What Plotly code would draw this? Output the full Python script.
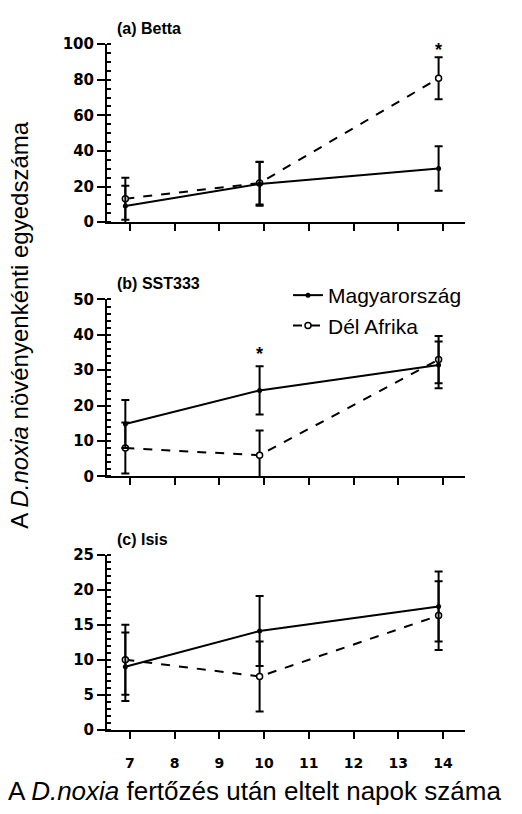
import plotly.graph_objects as go

# Sampling days (as plotted) and x tick labels
days = [6.9, 9.9, 13.9]
x_ticks = [7, 8, 9, 10, 11, 12, 13, 14]

series_names = ["Magyarország", "Dél Afrika"]

# (a) Betta
betta_hu = [9.1, 21.5, 30.2]
betta_hu_err = [11.4, 12.3, 12.5]
betta_za = [13.2, 22.0, 80.8]
betta_za_err = [11.8, 12.0, 11.8]

# (b) SST333
sst_hu = [14.8, 24.3, 31.5]
sst_hu_err = [6.8, 6.8, 6.6]
sst_za = [8.0, 6.0, 33.0]
sst_za_err = [7.2, 7.0, 6.7]

# (c) Isis
isis_hu = [9.0, 14.1, 17.6]
isis_hu_err = [4.9, 5.0, 5.0]
isis_za = [10.0, 7.6, 16.3]
isis_za_err = [5.0, 5.0, 4.9]

panel_titles = ["(a) Betta", "(b) SST333", "(c) Isis"]
y_ranges = [[0, 100], [0, 50], [0, 25]]
y_major = [20, 10, 5]
y_minor = [5, 2, 1]

# significance stars: (panel index, day, y)
stars = [(0, 13.9, 96.5), (1, 9.9, 34.5)]

W, H = 522, 814
x_dom = [107 / W, 465 / W]
# panel pixel extents (top, bottom)
panel_px = [(36, 218), (297, 478), (558, 737)]
y_doms = [[(H - b) / H, (H - t) / H] for t, b in panel_px]

panels = [
    (betta_hu, betta_hu_err, betta_za, betta_za_err),
    (sst_hu, sst_hu_err, sst_za, sst_za_err),
    (isis_hu, isis_hu_err, isis_za, isis_za_err),
]

fig = go.Figure()
for i, (hu, hu_e, za, za_e) in enumerate(panels):
    xa = "x" if i == 0 else f"x{i+1}"
    ya = "y" if i == 0 else f"y{i+1}"
    fig.add_trace(go.Scatter(
        x=days, y=za, xaxis=xa, yaxis=ya, mode="lines+markers",
        name=series_names[1], legendgroup="za", showlegend=(i == 0), legendrank=2,
        line=dict(color="black", width=2, dash="dash"),
        marker=dict(symbol="circle", size=6, color="white",
                    line=dict(color="black", width=1.5)),
        error_y=dict(type="data", array=za_e, visible=True, color="black",
                     thickness=2, width=4),
    ))
    fig.add_trace(go.Scatter(
        x=days, y=hu, xaxis=xa, yaxis=ya, mode="lines+markers",
        name=series_names[0], legendgroup="hu", showlegend=(i == 0), legendrank=1,
        line=dict(color="black", width=2),
        marker=dict(symbol="circle", size=5, color="black"),
        error_y=dict(type="data", array=hu_e, visible=True, color="black",
                     thickness=2, width=4),
    ))

tick_font = dict(family="DejaVu Sans", size=15, color="black", weight="bold")
layout = dict(
    width=W, height=H,
    margin=dict(l=0, r=0, t=0, b=0),
    paper_bgcolor="white", plot_bgcolor="white",
    showlegend=True,
    legend=dict(x=288 / W, y=(H - 272) / H, xanchor="left", yanchor="top",
                font=dict(family="Liberation Sans", size=21, color="black"),
                bgcolor="rgba(0,0,0,0)", tracegroupgap=0),
)
for i in range(3):
    xk = "xaxis" if i == 0 else f"xaxis{i+1}"
    yk = "yaxis" if i == 0 else f"yaxis{i+1}"
    ya = "y" if i == 0 else f"y{i+1}"
    xa = "x" if i == 0 else f"x{i+1}"
    layout[xk] = dict(
        domain=x_dom, anchor=ya, range=[6.49, 14.49],
        tickmode="array", tickvals=x_ticks, ticktext=[str(t) for t in x_ticks],
        showticklabels=(i == 2), ticks="outside", ticklen=7, tickwidth=2,
        tickcolor="black", showline=True, linecolor="black", linewidth=2,
        showgrid=False, zeroline=False, ticklabelstandoff=12,
        tickfont=dict(family="DejaVu Sans", size=14, color="black", weight="bold"),
    )
    layout[yk] = dict(
        domain=y_doms[i], anchor=xa, range=y_ranges[i],
        dtick=y_major[i], tick0=0, ticks="outside", ticklen=8, tickwidth=2,
        tickcolor="black", showline=True, linecolor="black", linewidth=2,
        showgrid=False, zeroline=False, tickfont=tick_font,
        minor=dict(dtick=y_minor[i], tick0=0, ticks="inside", ticklen=4,
                   tickwidth=1.5, tickcolor="black", showgrid=False),
    )
fig.update_layout(**layout)

annotations = []
for i, title in enumerate(panel_titles):
    top = panel_px[i][0]
    annotations.append(dict(
        text=title, xref="paper", yref="paper", x=115 / W, y=(H - (top - 16)) / H,
        xanchor="left", yanchor="middle", showarrow=False,
        font=dict(family="Liberation Sans", size=16, color="black", weight="bold"),
    ))
for p, d, yv in stars:
    xa = "x" if p == 0 else f"x{p+1}"
    ya = "y" if p == 0 else f"y{p+1}"
    annotations.append(dict(
        text="*", xref=xa, yref=ya, x=d, y=yv, showarrow=False,
        xanchor="center", yanchor="middle",
        font=dict(family="Liberation Sans", size=18, color="black", weight="bold"),
    ))
annotations.append(dict(
    text="A <i>D.noxia</i> növényenkénti egyedszáma", xref="paper", yref="paper",
    x=20 / W, y=(H - 323) / H, textangle=-90, showarrow=False,
    xanchor="center", yanchor="middle",
    font=dict(family="Liberation Sans", size=24, color="black"),
))
annotations.append(dict(
    text="A <i>D.noxia</i> fertőzés után eltelt napok száma", xref="paper", yref="paper",
    x=254 / W, y=(H - 800) / H, showarrow=False,
    xanchor="center", yanchor="middle",
    font=dict(family="Liberation Sans", size=26, color="black"),
))
fig.update_layout(annotations=annotations)

fig.write_html("out.html")
